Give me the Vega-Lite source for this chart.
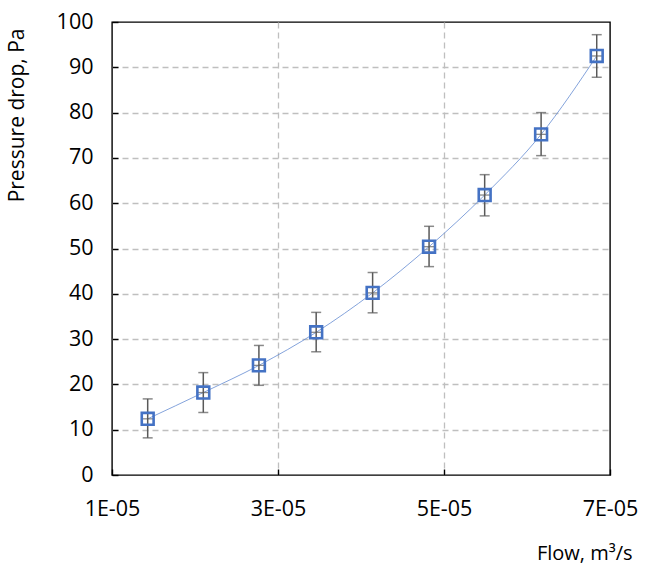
{
  "$schema": "https://vega.github.io/schema/vega-lite/v6.json",
  "autosize": {"type": "none"},
  "padding": {"left": 112, "top": 22, "right": 40, "bottom": 90},
  "width": 498,
  "height": 453,
  "background": "white",
  "config": {
    "font": "Open Sans",
    "view": {"stroke": "#000000", "strokeWidth": 1.4},
    "axis": {
      "labelFont": "Open Sans",
      "titleFont": "Open Sans",
      "labelFontSize": 21.5,
      "titleFontSize": 21,
      "labelColor": "#000000",
      "titleColor": "#000000",
      "titleFontWeight": "normal",
      "labelFlush": false,
      "labelOverlap": false,
      "domain": false,
      "tickColor": "#000000",
      "tickWidth": 1.4,
      "gridDash": [6, 4],
      "gridWidth": 1.3
    }
  },
  "data": {
    "values": [
      {"flow": 1.43e-5, "dp": 12.4, "lo": 8.2, "hi": 16.8},
      {"flow": 2.1e-5, "dp": 18.2, "lo": 13.8, "hi": 22.6},
      {"flow": 2.77e-5, "dp": 24.2, "lo": 19.8, "hi": 28.6},
      {"flow": 3.46e-5, "dp": 31.5, "lo": 27.2, "hi": 35.9},
      {"flow": 4.14e-5, "dp": 40.2, "lo": 35.8, "hi": 44.7},
      {"flow": 4.82e-5, "dp": 50.4, "lo": 46.0, "hi": 54.9},
      {"flow": 5.49e-5, "dp": 61.8, "lo": 57.2, "hi": 66.3},
      {"flow": 6.17e-5, "dp": 75.2, "lo": 70.5, "hi": 80.0},
      {"flow": 6.84e-5, "dp": 92.5, "lo": 87.8, "hi": 97.2}
    ]
  },
  "encoding": {
    "x": {
      "field": "flow",
      "type": "quantitative",
      "scale": {"domain": [1e-5, 7e-5], "nice": false, "zero": false},
      "axis": {
        "values": [1e-5, 3e-5, 5e-5, 7e-5],
        "labelExpr": "replace(format(datum.value, '.0e'), 'e-', 'E-0')",
        "tickSize": -6,
        "labelPadding": 29,
        "gridColor": {"condition": {"test": "datum.value <= 1.01e-5 || datum.value >= 6.99e-5", "value": "transparent"}, "value": "#BFBFBF"},
        "title": "Flow, m³/s",
        "titleFontSize": 20,
        "titleAnchor": null,
        "titleAlign": "right",
        "titleBaseline": "alphabetic",
        "titleX": 520,
        "titleY": 84
      }
    },
    "y": {
      "field": "dp",
      "type": "quantitative",
      "scale": {"domain": [0, 100], "nice": false},
      "axis": {
        "values": [0, 10, 20, 30, 40, 50, 60, 70, 80, 90, 100],
        "tickSize": -6,
        "labelPadding": 25,
        "gridColor": {"condition": {"test": "datum.value == 0 || datum.value == 100", "value": "transparent"}, "value": "#BFBFBF"},
        "title": "Pressure drop, Pa",
        "titleAngle": -90,
        "titleAlign": "right",
        "titleBaseline": "middle",
        "titleX": -95,
        "titleY": 6
      }
    }
  },
  "layer": [
    {
      "mark": {"type": "line", "interpolate": "monotone", "color": "#5B84CF", "strokeWidth": 0.75}
    },
    {
      "mark": {"type": "rule", "color": "#595959", "strokeWidth": 1.5},
      "encoding": {"y": {"field": "lo", "type": "quantitative"}, "y2": {"field": "hi"}}
    },
    {
      "mark": {"type": "tick", "orient": "horizontal", "color": "#595959", "size": 10, "thickness": 1.5},
      "encoding": {"y": {"field": "lo", "type": "quantitative"}}
    },
    {
      "mark": {"type": "tick", "orient": "horizontal", "color": "#595959", "size": 10, "thickness": 1.5},
      "encoding": {"y": {"field": "hi", "type": "quantitative"}}
    },
    {
      "mark": {"type": "tick", "orient": "horizontal", "color": "#595959", "size": 11, "thickness": 1.3}
    },
    {
      "mark": {"type": "point", "shape": "square", "filled": false, "color": "#4472C4", "strokeWidth": 2.6, "size": 140, "opacity": 1}
    }
  ]
}
